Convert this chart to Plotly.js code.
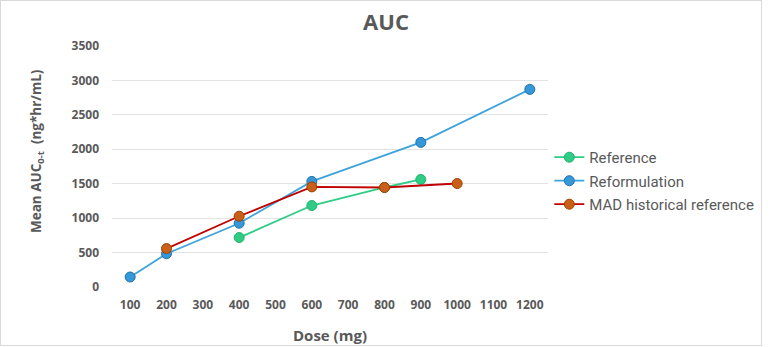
<!DOCTYPE html>
<html>
<head>
<meta charset="utf-8">
<script src="https://cdn.plot.ly/plotly-3.0.1.min.js"></script>
<style>
html,body{margin:0;padding:0;background:#fff;}
#frame{position:absolute;left:0;top:0;width:760px;height:344px;border:1px solid #d9d9d9;}
#chart{position:absolute;left:0;top:0;width:772px;height:347px;}
</style>
</head>
<body>
<div id="frame"></div>
<div id="chart"></div>
<script>
const refDose = [400, 600, 800, 900];
const refAUC = [718, 1183, 1445, 1562];
const reformDose = [100, 200, 400, 600, 900, 1200];
const reformAUC = [145, 483, 926, 1533, 2100, 2870];
const madDose = [200, 400, 600, 800, 1000];
const madAUC = [558, 1028, 1454, 1445, 1503];
const xTicks = [100,200,300,400,500,600,700,800,900,1000,1100,1200];
const yTicks = [0,500,1000,1500,2000,2500,3000,3500];

const traces = [
  {x: refDose, y: refAUC, name: 'Reference', mode: 'lines+markers', legendgroup: 'a',
   line: {color: '#2ECC85', width: 1.8},
   marker: {color: '#2ECC85', size: 10, line: {color: '#27AE6A', width: 1}}},
  {x: reformDose, y: reformAUC, name: 'Reformulation', mode: 'lines+markers', legendgroup: 'b',
   line: {color: '#3FA3DB', width: 1.8},
   marker: {color: '#3498DB', size: 10, line: {color: '#2471A3', width: 1}}},
  {x: madDose, y: madAUC, name: 'MAD historical reference', mode: 'lines+markers', legendgroup: 'c',
   line: {color: '#C00000', width: 1.8},
   marker: {color: '#C8601A', size: 10, line: {color: '#A04000', width: 1}}}
];

const tickFont = {family: 'Open Sans, sans-serif', size: 12, color: '#595959', weight: 'bold'};
const layout = {
  width: 772, height: 347,
  margin: {l: 112, r: 224, t: 46, b: 60},
  paper_bgcolor: 'rgba(0,0,0,0)', plot_bgcolor: 'rgba(0,0,0,0)',
  title: {text: 'AUC', x: 0.5, xref: 'container', xanchor: 'center', y: 0.935, yref: 'container', yanchor: 'middle',
          font: {family: 'Open Sans, sans-serif', size: 22, color: '#595959', weight: 'bold'}},
  showlegend: true,
  legend: {x: 1.003, y: 0.44, xanchor: 'left', yanchor: 'middle', itemwidth: 30, tracegroupgap: 1,
           font: {family: 'Roboto, sans-serif', size: 15, color: '#595959'}, bgcolor: 'rgba(0,0,0,0)'},
  xaxis: {range: [50, 1250], tickvals: xTicks, ticktext: xTicks.map(String), showgrid: false,
          zeroline: false, showline: false, ticks: '', tickfont: tickFont, ticklabelstandoff: 9,
          fixedrange: true,
          title: {text: 'Dose (mg)', standoff: 18,
                  font: {family: 'Open Sans, sans-serif', size: 15, color: '#595959', weight: 'bold'}}},
  yaxis: {range: [0, 3500], tickvals: yTicks, ticktext: yTicks.map(String), showgrid: true,
          gridcolor: '#e3e3e3', gridwidth: 1, zeroline: false, showline: false, ticks: '',
          tickfont: tickFont, ticklabelstandoff: 12, fixedrange: true},
  annotations: [{
    text: 'Mean AUC<sub>0-t</sub>  (ng*hr/mL)', textangle: -90, showarrow: false,
    xref: 'paper', yref: 'paper', x: -(112 - 37) / 436, y: (287 - 151) / 241,
    xanchor: 'center', yanchor: 'middle',
    font: {family: 'Open Sans, sans-serif', size: 13.5, color: '#595959', weight: 'bold'}
  }]
};
Plotly.newPlot('chart', traces, layout, {displayModeBar: false, staticPlot: true});
</script>
</body>
</html>
